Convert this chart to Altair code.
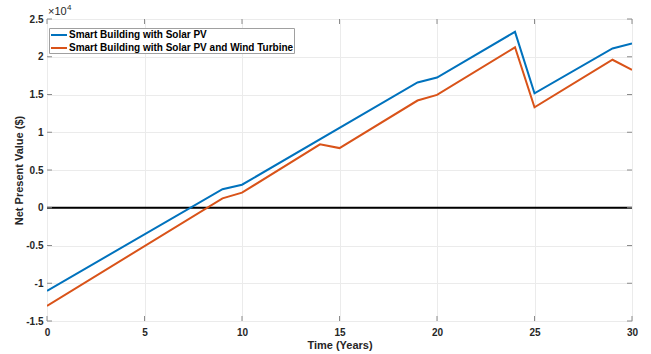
import altair as alt
import pandas as pd

# ---- data ----
series_names = ["Smart Building with Solar PV", "Smart Building with Solar PV and Wind Turbine"]
series_colors = ["#0072BD", "#D95319"]

years_pv = [0, 9, 10, 19, 20, 24, 25, 29, 30]
npv_pv = [-11000, 2450, 3050, 16600, 17250, 23300, 15150, 21100, 21750]

years_pvwt = [0, 9, 10, 14, 15, 19, 20, 24, 25, 29, 30]
npv_pvwt = [-13000, 1250, 2000, 8400, 7900, 14200, 14950, 21250, 13300, 19600, 18250]

x_ticks = [0, 5, 10, 15, 20, 25, 30]
y_ticks = [-15000, -10000, -5000, 0, 5000, 10000, 15000, 20000, 25000]
zero_level = [0]

W, H = 585, 302
FONT = "Liberation Sans"
LABEL_COLOR = "#262626"
FRAME_COLOR = "#8c8c8c"

df = pd.concat([
    pd.DataFrame({"year": years_pv, "npv": npv_pv, "series": series_names[0]}),
    pd.DataFrame({"year": years_pvwt, "npv": npv_pvwt, "series": series_names[1]}),
], ignore_index=True)

xscale = alt.Scale(domain=[0, 30], nice=False, zero=False)
yscale = alt.Scale(domain=[-15000, 25000], nice=False, zero=False)

x_axis = alt.Axis(title="Time (Years)", values=x_ticks, grid=True, ticks=False, domain=False,
                  labelFlush=False,
                  labelFont=FONT, labelFontSize=10, labelFontWeight="bold", labelColor=LABEL_COLOR,
                  labelPadding=6, titleFont=FONT, titleFontSize=11, titleFontWeight="bold",
                  titleColor=LABEL_COLOR, titlePadding=2, gridColor="#ebebeb")
y_axis = alt.Axis(title="Net Present Value ($)", values=y_ticks, grid=True, ticks=False, domain=False,
                  labelExpr="'' + (datum.value / 10000)",
                  labelFont=FONT, labelFontSize=10, labelFontWeight="bold", labelColor=LABEL_COLOR,
                  labelPadding=4, titleFont=FONT, titleFontSize=11, titleFontWeight="bold",
                  titleColor=LABEL_COLOR, titlePadding=1, gridColor="#ebebeb")

lines = alt.Chart(df).mark_line(strokeWidth=2, clip=True).encode(
    x=alt.X("year:Q", scale=xscale, axis=x_axis),
    y=alt.Y("npv:Q", scale=yscale, axis=y_axis),
    color=alt.Color("series:N", scale=alt.Scale(domain=series_names, range=series_colors),
                    legend=alt.Legend(title=None, orient="none", legendX=2, legendY=9,
                                      symbolType="M-0.83,0H1.83", symbolSize=144, symbolStrokeWidth=2,
                                      labelFont=FONT, labelFontSize=10, labelFontWeight="bold",
                                      labelColor="#000000", labelOffset=6, rowPadding=1,
                                      padding=0, strokeColor="#a0a0a0", fillColor="white",
                                      cornerRadius=0, labelLimit=400)),
    order=alt.Order("year:Q"),
)

zero = alt.Chart(pd.DataFrame({"npv": zero_level})).mark_rule(color="black", strokeWidth=2).encode(
    y=alt.Y("npv:Q", scale=yscale, axis=y_axis)
)

xt = pd.DataFrame({"year": x_ticks})
yt = pd.DataFrame({"npv": y_ticks})
tick_style = dict(color=FRAME_COLOR, strokeWidth=1)
ticks_bottom = alt.Chart(xt).mark_rule(**tick_style).encode(
    x=alt.X("year:Q", scale=xscale, axis=x_axis), y=alt.value(H), y2=alt.value(H - 5))
ticks_top = alt.Chart(xt).mark_rule(**tick_style).encode(
    x=alt.X("year:Q", scale=xscale, axis=x_axis), y=alt.value(0), y2=alt.value(5))
ticks_left = alt.Chart(yt).mark_rule(**tick_style).encode(
    y=alt.Y("npv:Q", scale=yscale, axis=y_axis), x=alt.value(0), x2=alt.value(5))
ticks_right = alt.Chart(yt).mark_rule(**tick_style).encode(
    y=alt.Y("npv:Q", scale=yscale, axis=y_axis), x=alt.value(W), x2=alt.value(W - 5))

exp_df = pd.DataFrame({"base": ["×10"], "power": ["4"]})
exp_base = alt.Chart(exp_df).mark_text(align="left", baseline="alphabetic", font=FONT, fontSize=11,
                                       color=LABEL_COLOR).encode(
    text="base:N", x=alt.value(1), y=alt.value(-4))
exp_pow = alt.Chart(exp_df).mark_text(align="left", baseline="alphabetic", font=FONT, fontSize=8,
                                      color=LABEL_COLOR).encode(
    text="power:N", x=alt.value(20), y=alt.value(-9))

chart = alt.layer(
    zero, lines, ticks_bottom, ticks_top, ticks_left, ticks_right, exp_base, exp_pow
).properties(
    width=W, height=H,
    autosize=alt.AutoSizeParams(type="none"),
    padding={"left": 47, "top": 19, "right": 19, "bottom": 33},
).configure_view(stroke=FRAME_COLOR, strokeWidth=1).configure(background="white")

chart.save("out.html", embed_options={"renderer": "svg", "actions": False})
